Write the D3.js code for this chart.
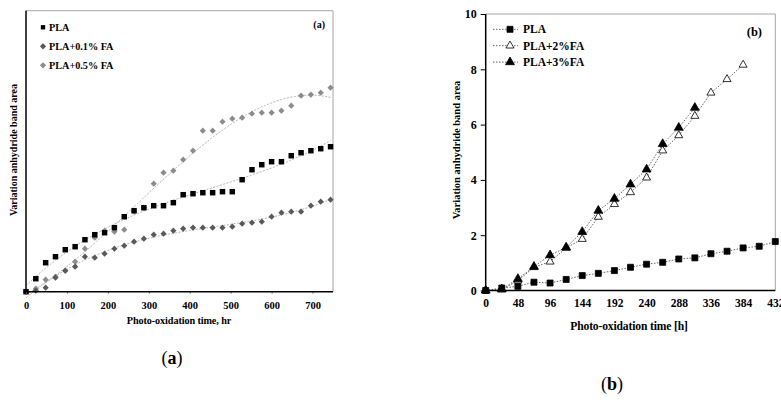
<!DOCTYPE html>
<html>
<head>
<meta charset="utf-8">
<script src="https://cdn.jsdelivr.net/npm/d3@7"></script>
<style>
body { margin: 0; background: #fff; }
svg { display: block; }
text { font-family: "Liberation Serif", "Times New Roman", serif; font-weight: bold; fill: #000; }
</style>
</head>
<body>
<div id="chart"></div>
<script>
// ---- panel (a) data ----
const hoursA = [0, 24, 48, 72, 96, 120, 144, 168, 192, 216, 240, 264, 288, 312, 336, 360,
  384, 408, 432, 456, 480, 504, 528, 552, 576, 600, 624, 648, 672, 696, 720, 744]
const plaA = [0, 0.13, 0.29, 0.35, 0.42, 0.45, 0.52, 0.57, 0.59, 0.64, 0.75, 0.81, 0.84, 0.86, 0.86, 0.89,
  0.97, 0.98, 0.99, 0.99, 1.00, 1.00, 1.12, 1.22, 1.27, 1.30, 1.30, 1.36, 1.39, 1.41, 1.43, 1.45]
const fa01A = [0, 0.01, 0.04, 0.14, 0.21, 0.25, 0.35, 0.34, 0.38, 0.43, 0.46, 0.50, 0.53, 0.57, 0.58, 0.61,
  0.63, 0.64, 0.64, 0.64, 0.64, 0.65, 0.68, 0.69, 0.70, 0.75, 0.79, 0.80, 0.80, 0.86, 0.90, 0.92]
const fa05A = [0, 0.03, 0.12, 0.15, 0.21, 0.30, 0.43, 0.54, 0.61, 0.60, 0.62, 0.80, 0.84, 1.08, 1.19, 1.21,
  1.32, 1.41, 1.61, 1.61, 1.70, 1.73, 1.74, 1.78, 1.79, 1.79, 1.81, 1.86, 1.96, 1.97, 1.99, 2.04]
const xTicksA = [0, 100, 200, 300, 400, 500, 600, 700]
const namesA = ['PLA', 'PLA+0.1% FA', 'PLA+0.5% FA']

// ---- panel (b) data ----
const hoursB = [0, 24, 48, 72, 96, 120, 144, 168, 192, 216, 240, 264, 288, 312, 336, 360, 384, 408, 432]
const plaB = [0, 0.09, 0.15, 0.30, 0.27, 0.40, 0.54, 0.62, 0.72, 0.84, 0.95, 1.02, 1.14, 1.18, 1.33, 1.42, 1.54, 1.60, 1.77]
const fa2B = [0, 0.03, 0.36, 0.84, 1.04, 1.54, 1.86, 2.66, 3.12, 3.55, 4.08, 5.06, 5.61, 6.31, 7.15, 7.64, 8.16]
const fa3B = [0, 0.05, 0.42, 0.86, 1.28, 1.56, 2.12, 2.89, 3.32, 3.84, 4.38, 5.30, 5.89, 6.61]
const xTicksB = [0, 48, 96, 144, 192, 240, 288, 336, 384, 432]
const yTicksB = [0, 2, 4, 6, 8, 10]
const namesB = ['PLA', 'PLA+2%FA', 'PLA+3%FA']

const svg = d3.select('#chart').append('svg').attr('width', 781).attr('height', 400)
svg.append('rect').attr('width', 781).attr('height', 400).attr('fill', '#fff')

// least squares polynomial (trend lines of panel a)
function polyfit(xs, ys, order) {
  const n = order + 1
  const s = 1 / d3.max(xs)
  const A = d3.range(n).map(() => new Array(n + 1).fill(0))
  xs.forEach((x0, k) => {
    const x = x0 * s
    for (let i = 0; i < n; i++) {
      for (let j = 0; j < n; j++) A[i][j] += Math.pow(x, i + j)
      A[i][n] += Math.pow(x, i) * ys[k]
    }
  })
  for (let i = 0; i < n; i++) {
    let p = i
    for (let r = i + 1; r < n; r++) if (Math.abs(A[r][i]) > Math.abs(A[p][i])) p = r
    const t = A[i]; A[i] = A[p]; A[p] = t
    for (let r = 0; r < n; r++) {
      if (r === i) continue
      const f = A[r][i] / A[i][i]
      for (let c = i; c <= n; c++) A[r][c] -= f * A[i][c]
    }
  }
  const coef = A.map((row, i) => row[n] / row[i])
  return x => coef.reduce((acc, c, i) => acc + c * Math.pow(x * s, i), 0)
}

// ================= panel (a) =================
const xA = d3.scaleLinear().domain([0, 750]).range([26, 333])
const yA = d3.scaleLinear().domain([0, 2.81]).range([291.7, 10.7])
const gA = svg.append('g')

// frame
gA.append('line').attr('x1', 26).attr('x2', 333).attr('y1', 10.7).attr('y2', 10.7).attr('stroke', '#a6a6a6')
gA.append('line').attr('x1', 333).attr('x2', 333).attr('y1', 10.7).attr('y2', 291.7).attr('stroke', '#a6a6a6')

const seriesA = [
  { name: namesA[0], values: plaA, color: '#000', rot: 0, size: 30 },
  { name: namesA[1], values: fa01A, color: '#595959', rot: 45, size: 19 },
  { name: namesA[2], values: fa05A, color: '#8c8c8c', rot: 45, size: 19 }
]

// trend lines
seriesA.forEach(s => {
  const f = polyfit(hoursA, s.values, 3)
  const pts = d3.range(0, 745, 4).map(h => [xA(h), yA(f(h))])
  gA.append('path')
    .attr('d', d3.line()(pts))
    .attr('fill', 'none')
    .attr('stroke', '#b3b3b3')
    .attr('stroke-width', 1)
    .attr('stroke-dasharray', '2,1.5')
})

// markers
seriesA.slice().reverse().forEach(s => {
  gA.append('g').selectAll('path')
    .data(s.values)
    .join('path')
    .attr('transform', (d, i) => `translate(${xA(hoursA[i])},${yA(d)}) rotate(${s.rot})`)
    .attr('d', d3.symbol().type(d3.symbolSquare).size(s.size))
    .attr('fill', s.color)
})

// axes
gA.append('g')
  .attr('transform', 'translate(0,291.7)')
  .call(d3.axisBottom(xA).tickValues(xTicksA).tickSize(2).tickPadding(8))
  .call(g => g.select('.domain').remove())
  .call(g => g.selectAll('.tick line').attr('stroke', '#777'))
  .call(g => g.selectAll('.tick text').attr('font-size', 10.5).attr('font-family', null))
gA.append('line').attr('x1', 26).attr('x2', 333).attr('y1', 291.7).attr('y2', 291.7).attr('stroke', '#000').attr('stroke-width', 1.5)
gA.append('line').attr('x1', 26).attr('x2', 26).attr('y1', 10.7).attr('y2', 291.7).attr('stroke', '#000').attr('stroke-width', 1.5)

gA.append('text').attr('x', 179).attr('y', 323.5).attr('text-anchor', 'middle').attr('font-size', 10.2)
  .attr('letter-spacing', -0.1)
  .text('Photo-oxidation time, hr')
gA.append('text').attr('transform', 'translate(17,150) rotate(-90)').attr('text-anchor', 'middle').attr('font-size', 10)
  .text('Variation anhydride band area')
gA.append('text').attr('x', 325).attr('y', 28).attr('text-anchor', 'end').attr('font-size', 10).text('(a)')

// legend (a)
const legA = gA.append('g').selectAll('g').data(seriesA).join('g')
  .attr('transform', (d, i) => `translate(43,${27.3 + i * 19})`)
legA.append('path').attr('d', d3.symbol().type(d3.symbolSquare).size(19)())
  .attr('transform', d => `rotate(${d.rot})`).attr('fill', d => d.color)
legA.append('text').attr('x', 6).attr('dy', '0.35em').attr('font-size', 10.2).text(d => d.name)

// ================= panel (b) =================
const xB = d3.scaleLinear().domain([0, 432]).range([485.7, 775.3])
const yB = d3.scaleLinear().domain([0, 10]).range([290.5, 14])
const gB = svg.append('g')

gB.append('line').attr('x1', 485.7).attr('x2', 775.3).attr('y1', 14).attr('y2', 14).attr('stroke', '#a6a6a6')
gB.append('line').attr('x1', 775.3).attr('x2', 775.3).attr('y1', 14).attr('y2', 290.5).attr('stroke', '#a6a6a6')

const seriesB = [
  { name: namesB[0], values: plaB, symbol: d3.symbolSquare, size: 36, fill: '#000' },
  { name: namesB[1], values: fa2B, symbol: d3.symbolTriangle, size: 28, fill: '#fff' },
  { name: namesB[2], values: fa3B, symbol: d3.symbolTriangle, size: 34, fill: '#000' }
]

seriesB.forEach(s => {
  gB.append('path')
    .attr('d', d3.line().x((d, i) => xB(hoursB[i])).y(d => yB(d))(s.values))
    .attr('fill', 'none')
    .attr('stroke', '#555')
    .attr('stroke-width', 0.9)
    .attr('stroke-dasharray', '1.5,1.5')
})
seriesB.forEach(s => {
  gB.append('g').selectAll('path')
    .data(s.values)
    .join('path')
    .attr('transform', (d, i) => `translate(${xB(hoursB[i])},${yB(d)})`)
    .attr('d', d3.symbol().type(s.symbol).size(s.size))
    .attr('fill', s.fill)
    .attr('stroke', '#000')
    .attr('stroke-width', 0.8)
})

gB.append('g')
  .attr('transform', 'translate(0,290.5)')
  .call(d3.axisBottom(xB).tickValues(xTicksB).tickSize(0).tickPadding(8))
  .call(g => g.select('.domain').remove())
  .call(g => g.selectAll('.tick text').attr('font-size', 11.5).attr('font-family', null))
gB.append('g')
  .attr('transform', 'translate(485.7,0)')
  .call(d3.axisLeft(yB).tickValues(yTicksB).tickSize(5).tickPadding(4))
  .call(g => g.select('.domain').remove())
  .call(g => g.selectAll('.tick text').attr('font-size', 12).attr('font-family', null))
gB.append('line').attr('x1', 485.7).attr('x2', 775.3).attr('y1', 290.5).attr('y2', 290.5).attr('stroke', '#000').attr('stroke-width', 1.5)
gB.append('line').attr('x1', 485.7).attr('x2', 485.7).attr('y1', 14).attr('y2', 290.5).attr('stroke', '#000').attr('stroke-width', 1.5)

gB.append('text').attr('x', 629).attr('y', 330).attr('text-anchor', 'middle').attr('font-size', 11.6)
  .attr('letter-spacing', -0.15)
  .text('Photo-oxidation time [h]')
gB.append('text').attr('transform', 'translate(460,150) rotate(-90)').attr('text-anchor', 'middle').attr('font-size', 10.5)
  .text('Variation anhydride band area')
gB.append('text').attr('x', 762).attr('y', 36).attr('text-anchor', 'end').attr('font-size', 12.5).text('(b)')

const legB = gB.append('g').selectAll('g').data(seriesB).join('g')
  .attr('transform', (d, i) => `translate(510,${29.3 + i * 16.4})`)
legB.append('line').attr('x1', -17).attr('x2', 8).attr('stroke', '#555').attr('stroke-width', 0.9).attr('stroke-dasharray', '1.5,1.5')
legB.append('path').attr('d', d => d3.symbol().type(d.symbol).size(d.size)())
  .attr('fill', d => d.fill).attr('stroke', '#000').attr('stroke-width', 0.8)
legB.append('text').attr('x', 13).attr('dy', '0.35em').attr('font-size', 11.5).text(d => d.name)

// ---- captions ----
const cap = svg.append('g').style('font-family', '"DejaVu Serif", serif')
const capA = cap.append('text').attr('x', 172).attr('y', 364).attr('text-anchor', 'middle').attr('font-size', 18).style('font-weight', 'normal')
capA.append('tspan').text('(')
capA.append('tspan').style('font-weight', 'bold').text('a')
capA.append('tspan').text(')')
const capB = cap.append('text').attr('x', 612).attr('y', 390).attr('text-anchor', 'middle').attr('font-size', 18).style('font-weight', 'normal')
capB.append('tspan').text('(')
capB.append('tspan').style('font-weight', 'bold').text('b')
capB.append('tspan').text(')')
</script>
</body>
</html>
